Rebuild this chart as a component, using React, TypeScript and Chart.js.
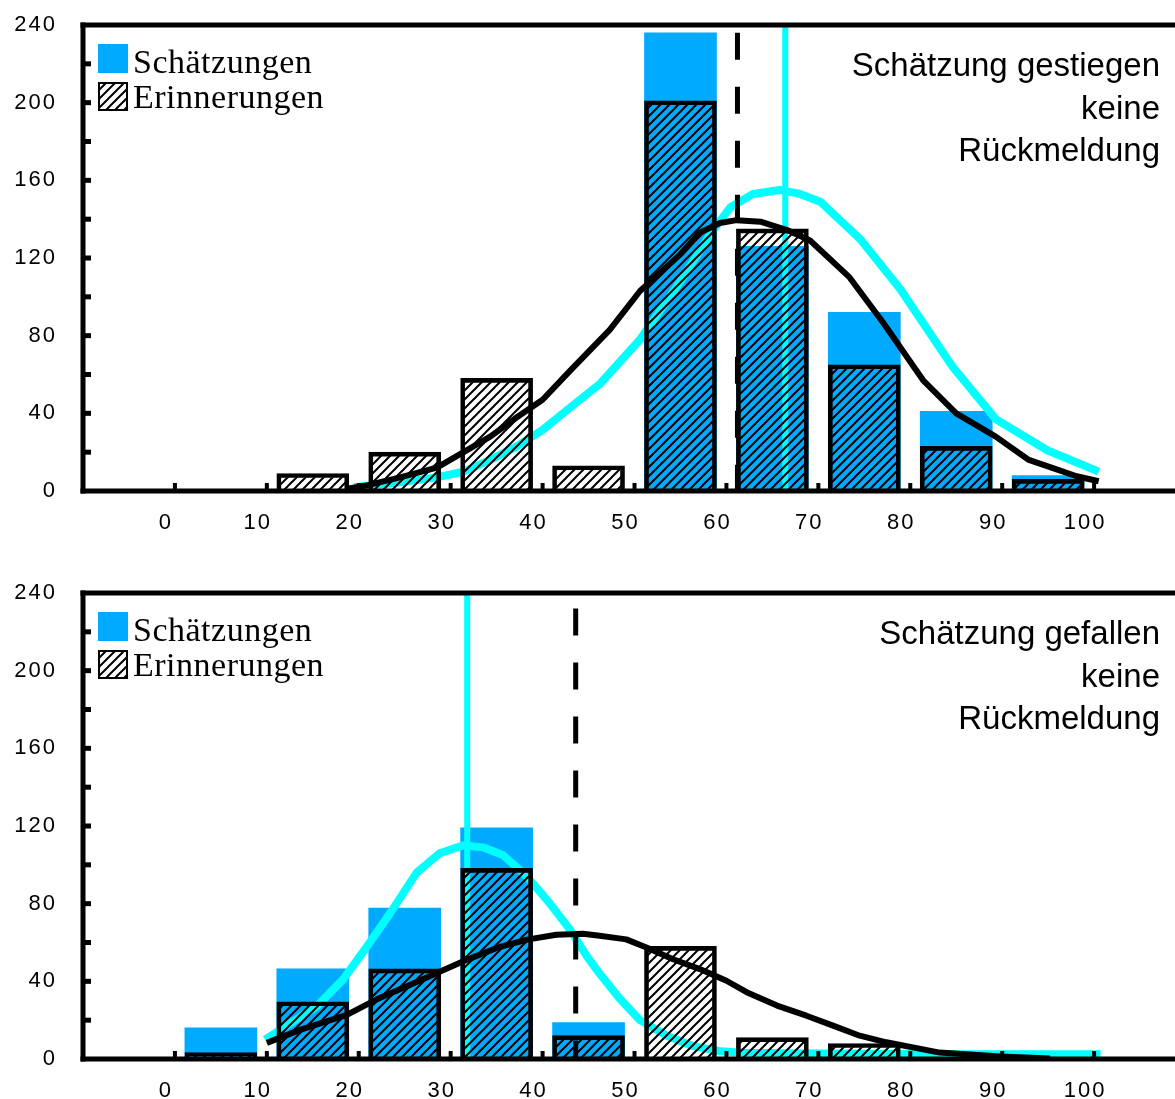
import React, { useEffect, useRef } from 'react';
import { Chart, registerables } from 'chart.js';

Chart.register(...registerables);

// ---------- data ----------
const BIN_CENTERS = [5, 15, 25, 35, 45, 55, 65, 75, 85, 95];
const X_TICKS = [0, 10, 20, 30, 40, 50, 60, 70, 80, 90, 100];
const X_TICK_LABELS = ['0', '10', '20', '30', '40', '50', '60', '70', '80', '90', '100'];
const Y_TICKS = [0, 40, 80, 120, 160, 200, 240];
const Y_TICK_LABELS = ['0', '40', '80', '120', '160', '200', '240'];
const Y_MARKS = [20, 40, 60, 80, 100, 120, 140, 160, 180, 200, 220];

const LEGEND_LABELS = ['Schätzungen', 'Erinnerungen'];

// top panel: Schätzung gestiegen
const TOP_SCHAETZUNGEN = [null, null, null, null, null, 236, 126, 92, 41, 8];
const TOP_ERINNERUNGEN = [null, 9, 20, 58, 13, 201, 135, 65, 23, 6];
const TOP_CURVE_S_X = [19.5, 24.5, 28.5, 31.4, 34.3, 37.2, 40, 43, 46.2, 50.6, 55, 58.2, 60.4, 62.9, 65.8, 68, 70.2, 74.5, 78.9, 84.6, 89.3, 94.9, 100.5];
const TOP_CURVE_S_Y = [2, 4.5, 7, 10, 16, 23, 31.5, 43, 55, 78, 108, 132, 146, 153, 155, 153, 149, 130, 104, 64, 37, 21, 10];
const TOP_CURVE_E_X = [18.6, 21, 24.5, 28.5, 31.4, 34.3, 37.2, 40, 43, 47.3, 50.6, 55, 57.1, 59.3, 61.1, 63.7, 66.6, 69.1, 73.4, 77, 81.4, 85, 89.3, 92.9, 96, 98.1, 100.5];
const TOP_CURVE_E_Y = [1, 3, 7, 12, 20, 28, 38, 47, 62, 83, 103, 122, 133, 138, 139.5, 138.7, 134.4, 129, 110, 87, 57, 40, 28, 16, 11, 7.6, 5];
const TOP_MEAN_S = 66.4;
const TOP_MEAN_E = 61.2;
const TOP_NOTE = ['Schätzung gestiegen', 'keine', 'Rückmeldung'];

// bottom panel: Schätzung gefallen
const BOT_SCHAETZUNGEN = [16, 46.5, 77.7, 119, 18.8, null, null, null, null, null];
const BOT_ERINNERUNGEN = [3.3, 29.5, 46.4, 98.2, 12, 58, 11, 8, null, null];
const BOT_CURVE_S_X = [9.8, 15.4, 18.3, 20.9, 23.4, 26.3, 28.8, 31.3, 33.5, 35.7, 38.3, 40.8, 43, 44.8, 46.2, 48.4, 50.6, 53.5, 56.4, 59.3, 61.8, 66, 75, 85, 95, 100.7];
const BOT_CURVE_S_Y = [10, 27, 41, 58, 75, 96, 106, 110, 109, 105, 94, 80, 66.5, 53, 44, 31, 20, 12, 6.6, 4, 3.2, 3, 2.7, 2.5, 2.5, 2.5];
const BOT_CURVE_E_X = [10, 13.6, 18.7, 21.9, 25.6, 28.5, 31.8, 35, 38.3, 41.5, 44.4, 46.2, 49.1, 51.3, 54.2, 57.1, 60, 62.2, 65.5, 68.7, 71.6, 74.5, 77.4, 83.2, 89.8, 95.2];
const BOT_CURVE_E_Y = [8.3, 15, 22.7, 30.6, 38.3, 44.3, 51.2, 57.2, 61.5, 64, 64.5, 63.5, 61.6, 57.4, 51.4, 46.3, 40.3, 34.4, 27.5, 22.3, 17.2, 12, 8.6, 3.3, 1.3, 0.3];
const BOT_MEAN_S = 31.8;
const BOT_MEAN_E = 43.6;
const BOT_NOTE = ['Schätzung gefallen', 'keine', 'Rückmeldung'];

// ---------- styles ----------
const BLUE = '#00AAFF';
const CYAN = '#00FFFF';
const BLACK = '#000000';
const W = 1175;
const H = 545;
const AREA_TOP = 25;
const AREA_BOTTOM = 491;
const AXIS_LEFT = 83;
const X_MIN = -10;
const X_MAX = 108.8;
const TICK_FONT = "'Liberation Sans', Arial, sans-serif";
const SERIF = "'Liberation Serif', 'Times New Roman', serif";

function makeHatch(): CanvasPattern | string {
  const c = document.createElement('canvas');
  c.width = 9;
  c.height = 9;
  const g = c.getContext('2d');
  if (!g) return BLACK;
  g.strokeStyle = BLACK;
  g.lineWidth = 2;
  g.beginPath();
  g.moveTo(-2, 11);
  g.lineTo(11, -2);
  g.moveTo(-7, 7);
  g.lineTo(7, -7);
  g.moveTo(2, 16);
  g.lineTo(16, 2);
  g.stroke();
  const p = g.createPattern(c, 'repeat');
  return p || BLACK;
}

const pts = (xs: number[], ys: number[]) => xs.map((x, i) => ({ x, y: ys[i] }));
const barPts = (vals: (number | null)[]) => BIN_CENTERS.map((x, i) => ({ x, y: vals[i] }));

interface PanelProps {
  schaetz: (number | null)[];
  erinn: (number | null)[];
  sx: number[];
  sy: number[];
  ex: number[];
  ey: number[];
  meanS: number;
  meanE: number;
  note: string[];
  dashTop: number;
}

function Panel(props: PanelProps) {
  const ref = useRef<HTMLCanvasElement | null>(null);
  useEffect(() => {
    const canvas = ref.current;
    if (!canvas) return;
    const hatch = makeHatch();

    const decor = {
      id: 'decor',
      beforeDraw(chart: any) {
        (chart.ctx as any).letterSpacing = '2px';
      },
      afterDraw(chart: any) {
        const ctx = chart.ctx as CanvasRenderingContext2D;
        const a = chart.chartArea;
        const xs = chart.scales.x;
        const ys = chart.scales.y;
        ctx.save();
        (ctx as any).letterSpacing = '0px';
        ctx.fillStyle = BLACK;
        // frame
        ctx.fillRect(a.left - 2.5, a.top - 2.5, a.right - a.left + 5, 5);
        ctx.fillRect(a.left - 2.5, a.top - 2.5, 5, a.bottom - a.top + 5);
        ctx.fillRect(a.left - 2.5, a.bottom - 2.5, a.right - a.left + 5, 5);
        // tick marks
        X_TICKS.forEach((v) => {
          const px = xs.getPixelForValue(v);
          ctx.fillRect(px - 2, a.bottom - 8, 4, 6);
        });
        Y_MARKS.forEach((v) => {
          const py = ys.getPixelForValue(v);
          ctx.fillRect(a.left, py - 2.5, 8, 5);
        });
        // legend
        ctx.fillStyle = BLUE;
        ctx.fillRect(98, a.top + 19, 30, 29);
        ctx.fillStyle = '#fff';
        ctx.fillRect(99, a.top + 58, 28, 27);
        ctx.fillStyle = hatch as any;
        ctx.fillRect(99, a.top + 58, 28, 27);
        ctx.strokeStyle = BLACK;
        ctx.lineWidth = 2;
        ctx.strokeRect(99, a.top + 58, 28, 27);
        ctx.fillStyle = BLACK;
        ctx.font = `34px ${SERIF}`;
        (ctx as any).letterSpacing = '0.5px';
        ctx.textAlign = 'left';
        ctx.textBaseline = 'alphabetic';
        ctx.fillText(LEGEND_LABELS[0], 133, a.top + 48);
        ctx.fillText(LEGEND_LABELS[1], 133, a.top + 83);
        // note
        (ctx as any).letterSpacing = '0px';
        ctx.font = `33px ${TICK_FONT}`;
        ctx.textAlign = 'right';
        props.note.forEach((t, i) => {
          ctx.fillText(t, 1160, a.top + 51 + i * 42.5);
        });
        ctx.restore();
      },
    };

    const chart = new Chart(canvas, {
      type: 'bar',
      data: {
        datasets: [
          {
            type: 'bar',
            label: LEGEND_LABELS[0],
            data: barPts(props.schaetz) as any,
            backgroundColor: BLUE,
            borderWidth: 0,
            barThickness: 72,
            grouped: false,
            order: 6,
          } as any,
          {
            type: 'line',
            label: 'Verteilung Schätzungen',
            data: pts(props.sx, props.sy),
            borderColor: CYAN,
            borderWidth: 8,
            pointRadius: 0,
            tension: 0,
            borderJoinStyle: 'round',
            order: 5,
          },
          {
            type: 'line',
            label: 'Mittelwert Schätzungen',
            data: [{ x: props.meanS, y: 0 }, { x: props.meanS, y: 240 }],
            borderColor: CYAN,
            borderWidth: 6,
            pointRadius: 0,
            order: 4,
          },
          {
            type: 'bar',
            label: LEGEND_LABELS[1],
            data: barPts(props.erinn) as any,
            backgroundColor: hatch as any,
            borderColor: BLACK,
            borderWidth: 4,
            barThickness: 72,
            grouped: false,
            order: 3,
          } as any,
          {
            type: 'line',
            label: 'Verteilung Erinnerungen',
            data: pts(props.ex, props.ey),
            borderColor: BLACK,
            borderWidth: 6,
            pointRadius: 0,
            tension: 0,
            borderJoinStyle: 'round',
            order: 2,
          },
          {
            type: 'line',
            label: 'Mittelwert Erinnerungen',
            data: [{ x: props.meanE, y: props.dashTop }, { x: props.meanE, y: 0 }],
            borderColor: BLACK,
            borderWidth: 5,
            borderDash: [27, 27],
            borderCapStyle: 'butt',
            pointRadius: 0,
            order: 1,
          },
        ] as any,
      },
      options: {
        responsive: false,
        animation: false,
        devicePixelRatio: 1,
        layout: { padding: { top: AREA_TOP, left: 0, right: 0, bottom: 0 } },
        plugins: { legend: { display: false }, tooltip: { enabled: false } },
        scales: {
          x: {
            type: 'linear',
            min: X_MIN,
            max: X_MAX,
            offset: false,
            grid: { display: false, drawTicks: false },
            border: { display: false },
            afterFit: (s: any) => {
              s.height = H - AREA_BOTTOM;
              s.paddingLeft = 0;
              s.paddingRight = 0;
              s.paddingTop = 0;
              s.paddingBottom = 0;
            },
            afterBuildTicks: (s: any) => {
              s.ticks = X_TICKS.map((v) => ({ value: v }));
            },
            ticks: {
              autoSkip: false,
              maxRotation: 0,
              padding: 19,
              labelOffset: -9,
              color: BLACK,
              font: { family: TICK_FONT, size: 22 },
              callback: (v: any) => X_TICK_LABELS[X_TICKS.indexOf(Number(v))] ?? '',
            },
          },
          y: {
            type: 'linear',
            min: 0,
            max: 240,
            grid: { display: false, drawTicks: false },
            border: { display: false },
            afterFit: (s: any) => {
              s.width = AXIS_LEFT;
              s.paddingTop = 0;
              s.paddingBottom = 0;
              s.paddingLeft = 0;
              s.paddingRight = 0;
            },
            afterBuildTicks: (s: any) => {
              s.ticks = Y_TICKS.map((v) => ({ value: v }));
            },
            ticks: {
              padding: 26,
              color: BLACK,
              font: { family: TICK_FONT, size: 22 },
              callback: (v: any) => Y_TICK_LABELS[Y_TICKS.indexOf(Number(v))] ?? '',
            },
          },
        },
      } as any,
      plugins: [decor],
    });
    return () => chart.destroy();
  }, []);
  return <canvas ref={ref} width={W} height={H} style={{ display: 'block', width: W, height: H }} />;
}

export default function App() {
  return (
    <div style={{ position: 'absolute', left: 0, top: 0, width: W, height: 1099, background: '#fff', overflow: 'hidden' }}>
      <div style={{ position: 'absolute', left: 0, top: 0 }}>
        <Panel
          schaetz={TOP_SCHAETZUNGEN}
          erinn={TOP_ERINNERUNGEN}
          sx={TOP_CURVE_S_X}
          sy={TOP_CURVE_S_Y}
          ex={TOP_CURVE_E_X}
          ey={TOP_CURVE_E_Y}
          meanS={TOP_MEAN_S}
          meanE={TOP_MEAN_E}
          note={TOP_NOTE}
          dashTop={236}
        />
      </div>
      <div style={{ position: 'absolute', left: 0, top: 568 }}>
        <Panel
          schaetz={BOT_SCHAETZUNGEN}
          erinn={BOT_ERINNERUNGEN}
          sx={BOT_CURVE_S_X}
          sy={BOT_CURVE_S_Y}
          ex={BOT_CURVE_E_X}
          ey={BOT_CURVE_E_Y}
          meanS={BOT_MEAN_S}
          meanE={BOT_MEAN_E}
          note={BOT_NOTE}
          dashTop={232}
        />
      </div>
    </div>
  );
}
